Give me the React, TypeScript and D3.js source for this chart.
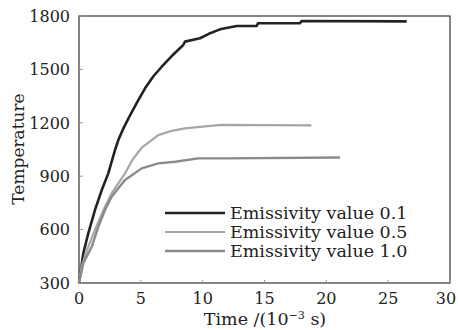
import React from "react";
import * as d3 from "d3";

const W = 458, H = 330;
const M = { left: 79, right: 450, top: 16, bottom: 283 };

const xTicks = [0, 5, 10, 15, 20, 25, 30];
const yTicks = [300, 600, 900, 1200, 1500, 1800];

const seriesNames = ["Emissivity value 0.1", "Emissivity value 0.5", "Emissivity value 1.0"];

const e01Time = [0, 0.35, 0.75, 1.29, 1.84, 2.37, 2.91, 3.18, 3.6, 4.0, 4.66, 5.34, 6.0, 6.69, 7.5, 8.43, 8.57, 9.78, 10.5, 11.4, 12.75, 14.37, 14.47, 17.87, 18.0, 26.5];
const e01Temp = [300, 467, 579, 710, 822, 916, 1047, 1103, 1170, 1225, 1310, 1394, 1460, 1515, 1575, 1637, 1656, 1675, 1700, 1725, 1744, 1744, 1759, 1759, 1772, 1770];

const e05Time = [0, 0.2, 0.75, 1.29, 2.1, 2.64, 3.72, 4.3, 5.07, 5.88, 6.41, 7.5, 8.57, 10, 11.5, 18.8];
const e05Temp = [300, 392, 504, 598, 729, 804, 916, 990, 1060, 1103, 1131, 1155, 1169, 1178, 1188, 1185];

const e10Time = [0, 0.35, 1.03, 1.56, 2.1, 2.64, 3.72, 5.07, 6.41, 7.76, 9.64, 11.8, 21.1];
const e10Temp = [300, 411, 504, 616, 710, 785, 879, 944, 972, 981, 1000, 1000, 1005];

const colors = ["#222222", "#a6a6a6", "#8a8a8a"];
const widths = [2.6, 2.2, 2.4];

export default function App() {
  const x = d3.scaleLinear().domain([0, 30]).range([M.left, M.right]);
  const y = d3.scaleLinear().domain([300, 1800]).range([M.bottom, M.top]);
  const line = d3.line<[number, number]>().x(d => x(d[0])).y(d => y(d[1]));
  const data = [
    e01Time.map((t, i) => [t, e01Temp[i]] as [number, number]),
    e05Time.map((t, i) => [t, e05Temp[i]] as [number, number]),
    e10Time.map((t, i) => [t, e10Temp[i]] as [number, number]),
  ];
  const font = "'DejaVu Serif', serif";
  const legX0 = 165, legX1 = 225, legY = [213, 232, 251];
  return (
    <svg width={W} height={H} style={{ position: "absolute", left: 0, top: 0, background: "#fff" }} fontFamily={font}>
      <rect x={M.left} y={M.top} width={M.right - M.left} height={M.bottom - M.top} fill="none" stroke="#333" strokeWidth={1.2} />
      {yTicks.map(v => (
        <g key={"y" + v}>
          <line x1={M.left} x2={M.left + 4} y1={y(v)} y2={y(v)} stroke="#999" strokeWidth={1} />
          <text x={70} y={y(v)} dy="0.36em" textAnchor="end" fontSize={16} fill="#222">{v}</text>
        </g>
      ))}
      {xTicks.map(v => (
        <g key={"x" + v}>
          <line x1={x(v)} x2={x(v)} y1={M.bottom} y2={M.bottom - 3} stroke="#999" strokeWidth={1} />
          <text x={v === 30 ? x(v) - 4 : x(v)} y={304} textAnchor="middle" fontSize={16} fill="#222">{v}</text>
        </g>
      ))}
      {data.map((d, i) => (
        <path key={i} d={line(d) || ""} fill="none" stroke={colors[i]} strokeWidth={widths[i]} strokeLinejoin="round" />
      ))}
      {seriesNames.map((n, i) => (
        <g key={n}>
          <line x1={legX0} x2={legX1} y1={legY[i]} y2={legY[i]} stroke={colors[i]} strokeWidth={widths[i]} />
          <text x={230} y={legY[i]} dy="0.36em" fontSize={17.5} fill="#222">{n}</text>
        </g>
      ))}
      <text x={265} y={325} textAnchor="middle" fontSize={17.5} fill="#222">
        Time /(10<tspan dy={-6} fontSize={11}>−3</tspan><tspan dy={6}> s)</tspan>
      </text>
      <text transform="translate(24,149) rotate(-90)" textAnchor="middle" fontSize={17} fill="#222">Temperature</text>
    </svg>
  );
}
